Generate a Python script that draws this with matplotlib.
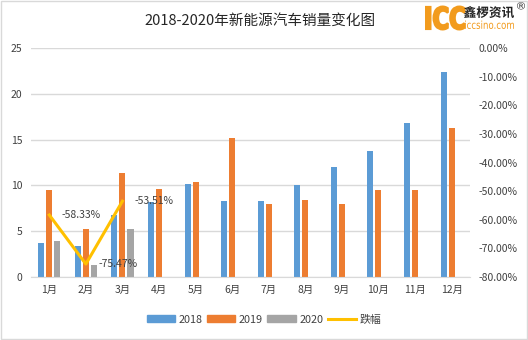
import matplotlib.pyplot as plt
from matplotlib.patches import Patch, Rectangle, PathPatch
from matplotlib.lines import Line2D
from matplotlib.ticker import FuncFormatter
from matplotlib.textpath import TextPath
from matplotlib.font_manager import FontProperties
from matplotlib.transforms import Affine2D
import numpy as np

plt.rcParams["font.family"] = ["Noto Sans CJK SC", "DejaVu Sans"]

months = ["1月", "2月", "3月", "4月", "5月", "6月", "7月", "8月", "9月", "10月", "11月", "12月"]
sales_2018 = [3.7, 3.4, 6.8, 8.2, 10.15, 8.3, 8.3, 10.05, 12.0, 13.75, 16.8, 22.4]
sales_2019 = [9.5, 5.25, 11.35, 9.6, 10.4, 15.2, 8.0, 8.4, 8.0, 9.5, 9.5, 16.3]
sales_2020 = [3.95, 1.3, 5.25]
drop_pct = [-58.33, -75.47, -53.51]

c2018 = "#5B9BD5"
c2019 = "#ED7D31"
c2020 = "#A5A5A5"
cline = "#FFC000"

W, H = 528, 340
fig = plt.figure(figsize=(W / 100, H / 100), dpi=100)
ax = fig.add_axes([0.0587, 0.1853, 0.8313, 0.6735])

x = np.arange(len(months))
w = 0.165
step = 0.22
ax.bar(x - step, sales_2018, w, color=c2018, zorder=2)
ax.bar(x, sales_2019, w, color=c2019, zorder=2)
ax.bar(x[:len(sales_2020)] + step, sales_2020, w, color=c2020, zorder=2)

ax.set_xlim(-0.5, len(months) - 0.5)
ax.set_ylim(0, 25)
ax.set_yticks([0, 5, 10, 15, 20, 25])
ax.set_xticks(x)
ax.set_xticklabels(months)
ax.grid(axis="y", color="#D9D9D9", linewidth=1, zorder=0)
ax.set_axisbelow(True)
for s in ["top", "left", "right"]:
    ax.spines[s].set_visible(False)
ax.spines["bottom"].set_color("#D9D9D9")
ax.tick_params(axis="both", length=0, labelsize=7.5, colors="#404040")
ax.tick_params(axis="x", pad=6)
ax.tick_params(axis="y", pad=6)

ax2 = ax.twinx()
ax2.plot(x[:len(drop_pct)], drop_pct, color=cline, linewidth=2.2, zorder=3)
ax2.set_ylim(-80, 0)
ax2.set_yticks(np.arange(-80, 1, 10))
ax2.yaxis.set_major_formatter(FuncFormatter(lambda v, p: f"{v:.2f}%" if abs(v) > 1e-9 else "0.00%"))
for s in ["top", "left", "right", "bottom"]:
    ax2.spines[s].set_visible(False)
ax2.tick_params(axis="y", length=0, labelsize=7.5, colors="#404040", pad=6)
for xi, v in zip(x, drop_pct):
    ax2.annotate(f"{v:.2f}%", (xi, v), xytext=(9, 0), textcoords="offset points",
                 ha="left", va="center", fontsize=7.5, color="#404040")

fig.text(0.493, 0.94, "2018-2020年新能源汽车销量变化图", ha="center", va="center",
         fontsize=10.5, color="#262626")


# logo: text paths stretched into their boxes (pixel coords, y from top)
def logo_text(s, x0, y0, x1, y1, color, fp, stroke=0):
    tp = TextPath((0, 0), s, size=10, prop=fp)
    bb = tp.get_extents()
    pad = stroke * 0.7
    sx = (x1 - x0 - 2 * pad) / bb.width / W
    sy = (y1 - y0 - 2 * pad) / bb.height / H
    tr = (Affine2D().translate(-bb.x0, -bb.y0).scale(sx, sy)
          .translate((x0 + pad) / W, 1 - (y1 - pad) / H) + fig.transFigure)
    fig.add_artist(PathPatch(tp, transform=tr, facecolor=color,
                             edgecolor=color if stroke else "none", linewidth=stroke))


logo_text("ICC", 425, 5.5, 465.5, 30.5, "#F29B1D",
          FontProperties(family="DejaVu Sans", weight="bold"), stroke=1.6)
logo_text("鑫椤资讯", 464, 6, 514, 18, "#222222",
          FontProperties(family="Noto Sans CJK SC", weight="bold"))
logo_text("iccsino.com", 465, 20.5, 514, 29, "#F29B1D",
          FontProperties(family="DejaVu Sans"))
logo_text("®", 517, 2, 525, 9.5, "#333333", FontProperties(family="DejaVu Sans"))

handles = [Patch(color=c2018), Patch(color=c2019), Patch(color=c2020),
           Line2D([0], [0], color=cline, linewidth=2.2)]
fig.legend(handles, ["2018", "2019", "2020", "跌幅"], loc="center", ncol=4,
           bbox_to_anchor=(0.5, 0.06), frameon=False, fontsize=7.8,
           handlelength=2.6, handleheight=0.6, handletextpad=0.35, columnspacing=0.4,
           labelcolor="#404040")

fig.patches.append(Rectangle((0.001, 0.004), 0.997, 0.993, transform=fig.transFigure,
                             fill=False, edgecolor="#D9D9D9", linewidth=1))

fig.savefig("out.png", dpi=100)
